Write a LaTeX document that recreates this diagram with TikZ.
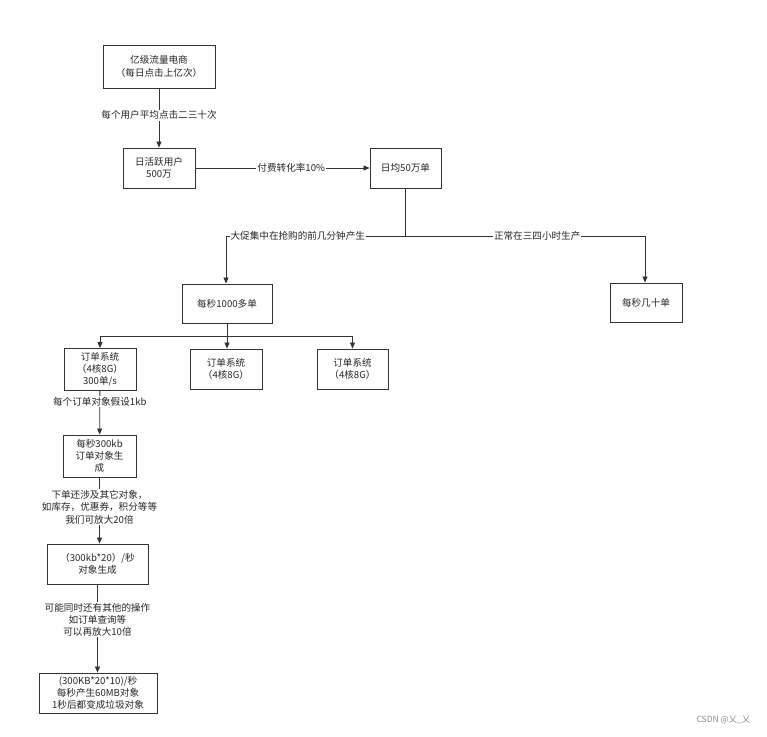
\documentclass[tikz,border=0pt]{standalone}
\usepackage{fontspec}
\setmainfont{Noto Sans CJK SC}
\usetikzlibrary{arrows.meta}
\begin{document}
\begin{tikzpicture}[x=1pt,y=-1pt,
  font=\fontsize{9.6pt}{12.3pt}\selectfont,
  box/.style={draw=black!80,line width=0.9pt,fill=white,align=center,inner sep=0pt,text=black!85},
  conn/.style={draw=black!80,line width=0.8pt,-{Triangle[length=6pt,width=5pt]}},
  line/.style={draw=black!80,line width=0.8pt},
  lab/.style={fill=white,inner sep=1pt,align=center,text=black!85}]
\useasboundingbox (0,0) rectangle (767,736);
\fill[white] (0,0) rectangle (767,736);
\node[box,minimum width=112pt,minimum height=43pt] (b1) at (159,66.5) {亿级流量电商\\（每日点击上亿次）};
\node[box,minimum width=72pt,minimum height=40pt] (b2) at (159,168) {日活跃用户\\500万};
\node[box,minimum width=71pt,minimum height=40pt] (b3) at (405.5,168) {日均50万单};
\node[box,minimum width=90pt,minimum height=39pt] (b4) at (227,303.5) {每秒1000多单};
\node[box,minimum width=72pt,minimum height=39pt] (b5) at (646,302.5) {每秒几十单};
\node[box,minimum width=72pt,minimum height=42pt] (b6) at (100,369.5) {订单系统\\（4核8G）\\300单/s};
\node[box,minimum width=72pt,minimum height=40pt] (b7) at (226,369) {订单系统\\（4核8G）};
\node[box,minimum width=71pt,minimum height=40pt] (b8) at (352.5,369) {订单系统\\（4核8G）};
\node[box,minimum width=73pt,minimum height=42pt] (b9) at (99.5,456) {每秒300kb\\订单对象生\\成};
\node[box,minimum width=101pt,minimum height=40pt] (b10) at (97.5,564) {（300kb*20）/秒\\对象生成};
\node[box,minimum width=118pt,minimum height=40pt] (b11) at (98,693) {(300KB*20*10)/秒\\每秒产生60MB对象\\1秒后都变成垃圾对象};
\coordinate (j1) at (405.5,236);
\coordinate (jl) at (226,236);
\coordinate (jr) at (645,236);
\coordinate (j2) at (227,336);
\coordinate (j2l) at (100,336);
\coordinate (j2r) at (352.5,336);
\draw[conn] (b1) -- (b2) node[lab,pos=0.45] {每个用户平均点击二三十次};
\draw[conn] (b2) -- (b3) node[lab,pos=0.55] {付费转化率10\%};
\draw[line] (b3) -- (j1);
\draw[conn] (j1) -- (jl) node[lab,pos=0.6] {大促集中在抢购的前几分钟产生} -- (b4.north -| jl);
\draw[conn] (j1) -- (jr) node[lab,pos=0.55] {正常在三四小时生产} -- (b5.north -| jr);
\draw[line] (b4) -- (j2);
\draw[conn] (j2) -- (j2l) -- (b6);
\draw[conn] (j2) -- (b7.north -| j2);
\draw[conn] (j2) -- (j2r) -- (b8);
\draw[conn] (b6) -- (b9) node[lab,pos=0.25] {每个订单对象假设1kb};
\draw[conn] (b9) -- (b10.north -| b9) node[lab,pos=0.45] {下单还涉及其它对象，\\如库存，优惠券，积分等等\\我们可放大20倍};
\draw[conn] (b10) -- (b11.north -| b10) node[lab,pos=0.4] {可能同时还有其他的操作\\如订单查询等\\可以再放大10倍};
\node[text=black!45,anchor=east,font=\fontsize{8.5pt}{10pt}\selectfont] (wm) at (754,720) {CSDN @乂\_乂};
\end{tikzpicture}
\end{document}
